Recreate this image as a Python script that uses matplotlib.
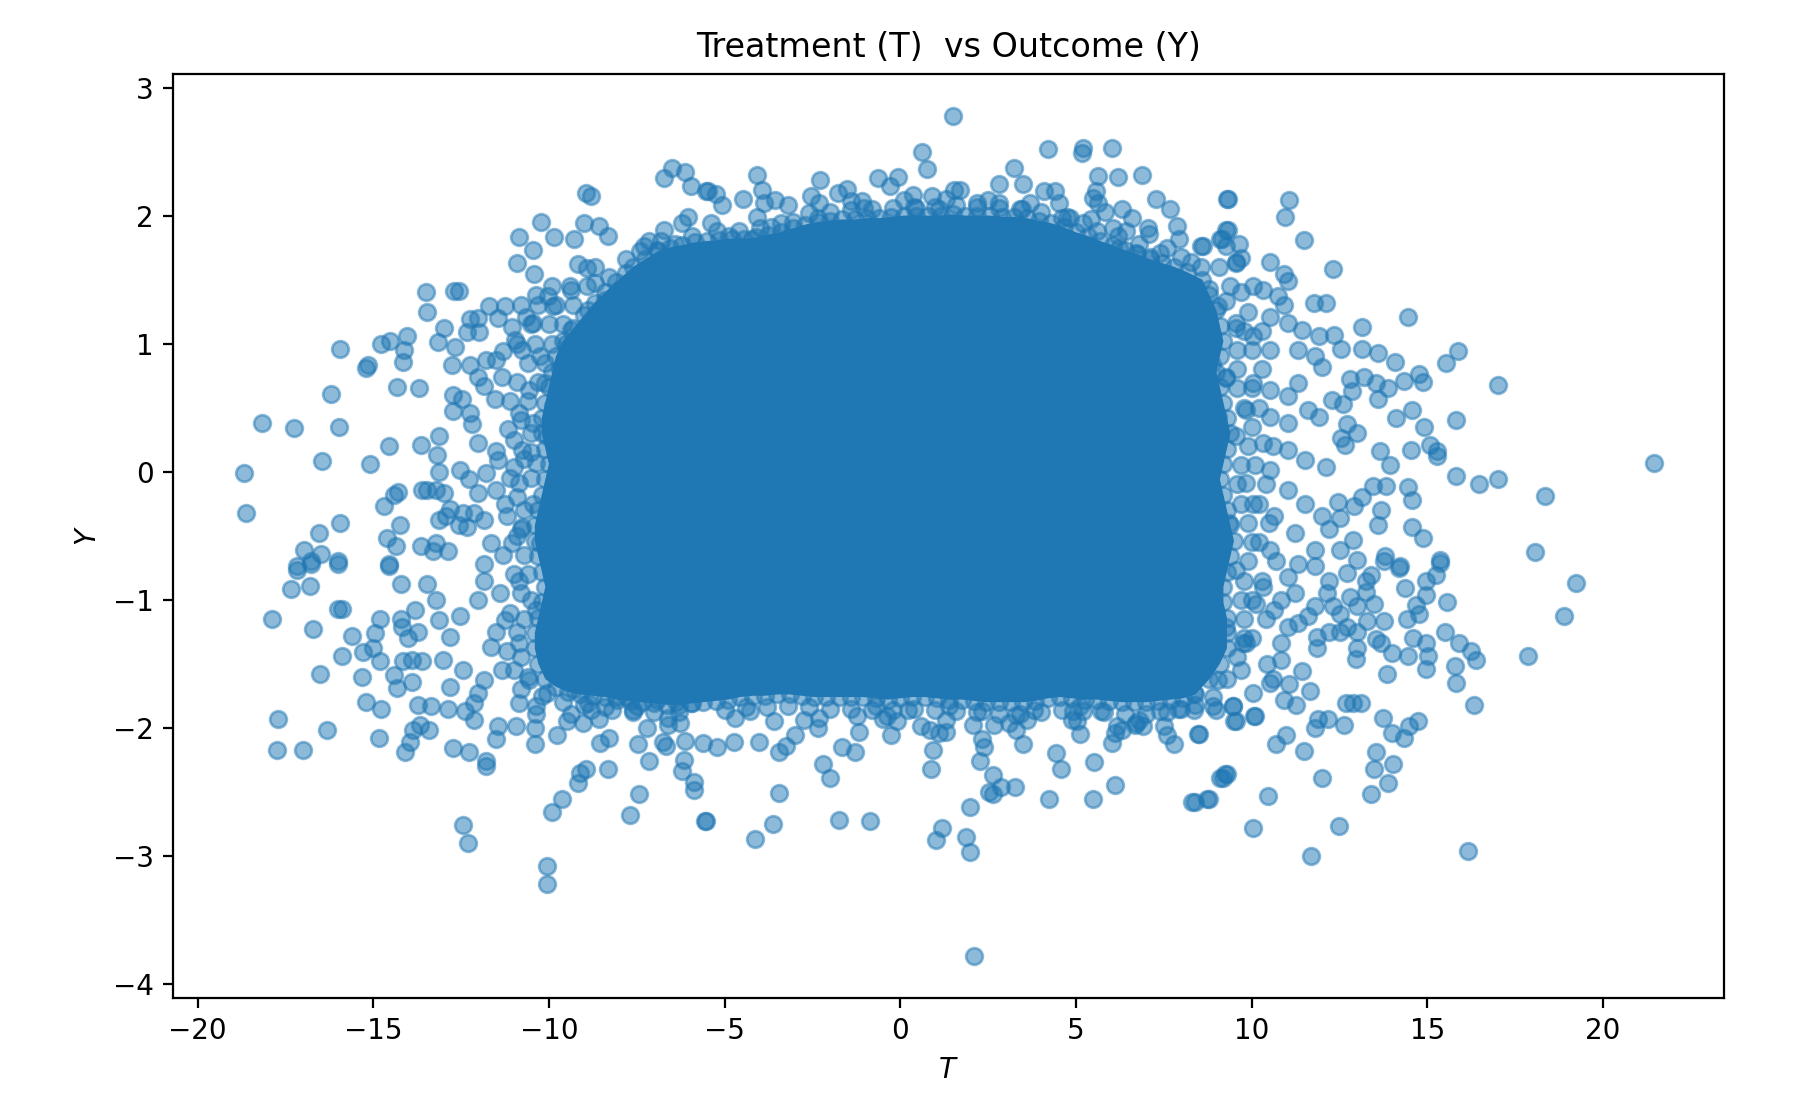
import matplotlib
matplotlib.use('Agg')
import matplotlib.pyplot as plt

# circles along the rim of the saturated middle of the cloud (T, Y), in order round the rim;
# the inside of this rim is solid colour in the picture
edge_pts = [
    # top, left to right
    (-7.6, 1.60), (-7.25, 1.66), (-6.9, 1.72), (-6.55, 1.75), (-6.2, 1.77), (-5.85, 1.79), (-5.5, 1.80),
    (-5.15, 1.81), (-4.8, 1.82), (-4.45, 1.82), (-4.1, 1.83), (-3.75, 1.85), (-3.4, 1.87), (-3.05, 1.90),
    (-2.7, 1.93), (-2.35, 1.95), (-2.0, 1.96), (-1.65, 1.97), (-1.3, 1.97), (-0.95, 1.98), (-0.6, 1.98),
    (-0.25, 1.99), (0.1, 2.00), (0.45, 2.00), (0.8, 2.00), (1.15, 2.00), (1.5, 2.01), (1.85, 2.00),
    (2.2, 2.00), (2.55, 2.00), (2.9, 1.99), (3.25, 1.99), (3.6, 1.98), (3.95, 1.96), (4.3, 1.94),
    (4.65, 1.91), (5.0, 1.87), (5.35, 1.84), (5.7, 1.80), (6.05, 1.77), (6.4, 1.73), (6.75, 1.70),
    (7.1, 1.66), (7.45, 1.63), (7.8, 1.60), (8.15, 1.56),
    # right, top to bottom
    (8.6, 1.50), (8.8, 1.38), (9.0, 1.26), (9.1, 1.14), (9.2, 1.02), (9.1, 0.90), (9.0, 0.78), (9.1, 0.66),
    (9.2, 0.54), (9.3, 0.42), (9.4, 0.30), (9.3, 0.18), (9.2, 0.06), (9.1, -0.06), (9.2, -0.18), (9.3, -0.30),
    (9.4, -0.42), (9.5, -0.54), (9.4, -0.66), (9.3, -0.78), (9.2, -0.90), (9.2, -1.02), (9.3, -1.14),
    (9.3, -1.26), (9.3, -1.38), (9.1, -1.50), (8.8, -1.62),
    # bottom, right to left
    (8.4, -1.74), (8.05, -1.77), (7.7, -1.78), (7.35, -1.79), (7.0, -1.80), (6.65, -1.80), (6.3, -1.80),
    (5.95, -1.79), (5.6, -1.78), (5.25, -1.78), (4.9, -1.77), (4.55, -1.76), (4.2, -1.77), (3.85, -1.79),
    (3.5, -1.80), (3.15, -1.80), (2.8, -1.80), (2.45, -1.80), (2.1, -1.79), (1.75, -1.78), (1.4, -1.78),
    (1.05, -1.77), (0.7, -1.76), (0.35, -1.76), (0.0, -1.77), (-0.35, -1.78), (-0.7, -1.77), (-1.05, -1.76),
    (-1.4, -1.76), (-1.75, -1.76), (-2.1, -1.76), (-2.45, -1.76), (-2.8, -1.75), (-3.15, -1.74), (-3.5, -1.74),
    (-3.85, -1.75), (-4.2, -1.75), (-4.55, -1.76), (-4.9, -1.78), (-5.25, -1.79), (-5.6, -1.80), (-5.95, -1.81),
    (-6.3, -1.82), (-6.65, -1.82), (-7.0, -1.81), (-7.35, -1.80), (-7.7, -1.79), (-8.05, -1.78), (-8.4, -1.76),
    (-8.75, -1.75), (-9.1, -1.74), (-9.45, -1.72), (-9.8, -1.68), (-10.1, -1.62),
    # left, bottom to top
    (-10.3, -1.50), (-10.4, -1.38), (-10.4, -1.26), (-10.3, -1.14), (-10.2, -1.02), (-10.1, -0.90),
    (-10.2, -0.78), (-10.3, -0.66), (-10.4, -0.54), (-10.4, -0.42), (-10.3, -0.30), (-10.2, -0.18),
    (-10.1, -0.06), (-10.0, 0.06), (-10.1, 0.18), (-10.2, 0.30), (-10.2, 0.42), (-10.1, 0.54), (-10.0, 0.66),
    (-9.9, 0.78), (-9.8, 0.90), (-9.6, 1.02), (-9.3, 1.12), (-9.0, 1.22), (-8.7, 1.32), (-8.4, 1.40),
    (-8.1, 1.48), (-7.8, 1.55)]

# visible single points, left side
left_pts = [(-18.68, -0.01), (-18.61, -0.32), (-18.17, 0.38), (-17.24, 0.34), (-15.97, 0.35), (-16.45, 0.08),
            (-15.94, 0.96), (-16.20, 0.61), (-15.19, 0.81), (-15.16, 0.83), (-14.79, 1.00), (-14.52, 1.02),
            (-14.03, 1.06), (-14.12, 0.95), (-14.15, 0.86), (-14.32, 0.66), (-13.69, 0.65), (-13.51, 1.40),
            (-13.46, 1.25), (-12.70, 1.41), (-12.55, 1.41), (-12.97, 1.12), (-13.15, 1.01), (-12.67, 0.97),
            (-12.77, 0.83), (-15.09, 0.06), (-14.55, 0.20), (-13.64, 0.21), (-13.14, 0.28), (-13.17, 0.13),
            (-13.12, 0.00), (-14.69, -0.27), (-14.30, -0.16), (-14.40, -0.18), (-14.23, -0.42), (-14.60, -0.52),
            (-14.35, -0.58), (-15.94, -0.40), (-16.55, -0.48), (-16.98, -0.61), (-16.49, -0.64), (-16.76, -0.70),
            (-15.99, -0.70), (-17.16, -0.74), (-14.55, -0.72), (-13.46, -0.14), (-13.61, -0.14), (-13.22, -0.14),
            (-12.97, -0.17), (-12.82, -0.29), (-12.92, -0.35), (-12.57, -0.42), (-13.12, -0.38), (-13.64, -0.58),
            (-13.22, -0.56), (-13.31, -0.62), (-12.87, -0.62), (-12.45, -0.32),
            (-12.03, 1.20), (-12.23, 1.19), (-11.69, 1.29), (-11.44, 1.20), (-12.33, 1.09), (-11.98, 1.09),
            (-12.72, 0.60), (-12.48, 0.57), (-12.72, 0.47), (-12.23, 0.46), (-12.18, 0.37), (-12.03, 0.22),
            (-11.54, 0.57), (-11.84, 0.67), (-12.03, 0.74), (-12.25, 0.83), (-11.79, 0.87), (-11.49, 0.87),
            (-11.30, 0.94), (-10.95, 1.03), (-10.80, 1.30), (-10.65, 1.21), (-10.46, 1.16), (-10.36, 1.38),
            (-10.01, 1.37), (-11.49, 0.16), (-11.44, 0.09), (-11.79, -0.01), (-12.53, 0.01), (-12.28, -0.06),
            (-12.03, -0.17), (-11.49, -0.14), (-12.13, -0.32), (-11.84, -0.38), (-12.33, -0.43),
            (-10.75, 0.95), (-10.26, 0.90), (-9.67, 0.80), (-10.11, 0.69), (-10.56, 0.64), (-10.85, 0.46),
            (-10.46, 0.38), (-9.87, 0.51), (-10.06, 0.28), (-10.75, 0.17), (-10.36, 0.07), (-9.67, 0.14),
            (-10.85, -0.09), (-10.46, -0.25), (-9.87, -0.19), (-10.75, -0.43), (-10.26, -0.56), (-9.57, -0.40),
            (-9.37, 1.11), (-9.87, 1.29), (-9.37, 1.42), (-8.68, 1.47), (-8.29, 1.52), (-8.39, 1.34),
            (-7.90, 1.42), (-8.88, 1.26), (-11.24, 1.29), (-11.05, 1.13), (-11.34, 0.74), (-11.15, 0.33),
            (-11.00, 0.04), (-11.24, -0.25), (-11.05, -0.56), (-11.64, -0.56), (-11.84, -0.72),
            (-17.16, -0.77), (-16.76, -0.72), (-15.99, -0.72), (-14.55, -0.74), (-17.35, -0.92), (-16.81, -0.89),
            (-15.99, -1.07), (-15.90, -1.07), (-17.87, -1.15), (-16.71, -1.23), (-15.61, -1.28), (-15.88, -1.44),
            (-16.52, -1.58), (-15.33, -1.60), (-15.30, -1.41), (-15.01, -1.38), (-14.94, -1.26), (-14.81, -1.15),
            (-14.81, -1.48), (-14.22, -0.88), (-13.48, -0.88), (-14.20, -1.15), (-14.18, -1.21), (-14.42, -1.59),
            (-14.32, -1.69), (-13.90, -1.64), (-14.15, -1.48), (-13.90, -1.47), (-13.61, -1.48), (-14.00, -1.30),
            (-13.71, -1.25), (-15.20, -1.80), (-14.79, -1.85), (-17.70, -1.93), (-16.32, -2.02), (-17.75, -2.17),
            (-17.01, -2.17), (-14.84, -2.08), (-13.71, -1.82), (-13.36, -1.83), (-12.87, -1.85), (-13.66, -1.98),
            (-13.86, -2.02), (-13.41, -2.02), (-13.95, -2.11), (-14.08, -2.19), (-12.72, -2.16), (-12.28, -2.19),
            (-11.79, -2.26), (-11.79, -2.30), (-12.13, -1.94), (-12.43, -2.76), (-12.31, -2.90), (-10.04, -3.08),
            (-10.06, -3.22), (-9.91, -2.66), (-9.62, -2.56), (-9.18, -2.43), (-9.10, -2.35), (-8.93, -2.32),
            (-8.31, -2.32), (-7.70, -2.68), (-7.42, -2.52), (-7.16, -2.26), (-7.45, -2.13), (-7.20, -2.00),
            (-5.53, -2.73), (-6.22, -2.34), (-6.14, -2.25), (-5.86, -2.49), (-5.86, -2.42), (-6.76, -2.11),
            (-6.66, -2.14), (-6.61, -1.98), (-6.37, -1.80), (-6.27, -1.96), (-6.12, -2.10), (-9.77, -2.06),
            (-10.38, -2.13), (-10.38, -2.00), (-9.47, -1.95), (-9.03, -1.96), (-8.54, -2.12), (-8.29, -2.08),
            (-8.58, -1.93), (-10.93, -1.99), (-11.49, -2.09), (-11.44, -1.99), (-12.38, -1.87), (-12.13, -1.81),
            (-10.36, -1.89), (-10.85, -1.81), (-7.50, -1.83), (-7.80, -1.76),
            (-10.85, -0.85), (-10.36, -1.08), (-11.24, -1.16), (-10.85, -1.34), (-11.34, -1.55), (-10.56, -1.63),
            (-11.84, -1.63), (-12.03, -1.73), (-11.64, -1.37), (-12.03, -1.00), (-11.84, -0.85), (-12.53, -1.13),
            (-12.82, -1.29), (-13.02, -1.47), (-12.82, -1.68), (-12.43, -1.55), (-13.22, -1.00), (-13.12, -1.16),
            (-13.81, -1.08), (-9.87, -1.52), (-9.28, -1.70), (-10.06, -1.73), (-8.88, -1.81), (-8.09, -1.76),
            (-6.91, -1.78), (-5.93, -1.81), (-10.36, -1.83), (-9.37, -1.89)]

# packed band outside the left rim
left_band = [(-9.9, 1.45), (-9.4, 1.45), (-8.9, 1.45), (-10.3, 1.30), (-9.8, 1.30), (-9.3, 1.30),
             (-10.5, 1.15), (-10.0, 1.15), (-9.6, 1.15), (-10.9, 1.00), (-10.4, 1.00), (-9.9, 1.00), (-9.5, 1.00),
             (-10.6, 0.85), (-10.1, 0.85), (-10.9, 0.70), (-10.3, 0.70), (-11.1, 0.55), (-10.6, 0.55),
             (-10.8, 0.40), (-10.5, 0.30), (-11.0, 0.25), (-10.5, 0.15), (-10.7, 0.10), (-11.1, -0.05),
             (-10.5, -0.05), (-10.9, -0.20), (-10.7, -0.30), (-11.2, -0.35), (-10.8, -0.45), (-10.9, -0.50),
             (-11.3, -0.65), (-10.7, -0.65), (-11.0, -0.80), (-10.6, -0.80), (-11.4, -0.95), (-10.8, -0.95),
             (-10.5, -1.00), (-11.1, -1.10), (-10.7, -1.15), (-11.5, -1.25), (-10.9, -1.25), (-11.2, -1.40),
             (-10.8, -1.45), (-11.0, -1.55), (-10.6, -1.60), (-10.8, -1.70), (-10.2, -1.75), (-9.6, -1.80),
             (-9.0, -1.82), (-8.4, -1.84), (-7.6, -1.86), (-7.0, -1.88), (-6.3, -1.88)]

# above the core
top_pts = [(-10.85, 1.83), (-10.46, 1.73), (-10.90, 1.63), (-10.43, 1.54), (-10.23, 1.95), (-9.85, 1.83),
           (-9.28, 1.82), (-9.00, 1.94), (-8.56, 1.92), (-8.31, 1.84), (-8.93, 2.18), (-8.80, 2.15),
           (-6.73, 2.29), (-6.49, 2.37), (-6.12, 2.34), (-5.95, 2.23), (-5.48, 2.19), (-6.73, 1.89),
           (-6.22, 1.94), (-6.04, 1.99), (-7.80, 1.66), (-7.30, 1.76), (-7.16, 1.80), (-9.18, 1.62),
           (-8.90, 1.59), (-8.70, 1.60), (-5.93, 1.84), (-5.53, 1.73), (-6.42, 1.78), (-6.91, 1.73),
           (1.49, 2.78), (0.62, 2.50), (0.75, 2.36), (4.20, 2.52), (5.21, 2.53), (5.18, 2.49), (6.02, 2.53),
           (3.23, 2.37), (3.51, 2.25), (2.82, 2.25), (5.63, 2.31), (6.20, 2.30), (6.87, 2.32), (5.58, 2.19),
           (5.50, 2.14), (5.63, 2.10), (7.28, 2.13), (7.68, 2.05), (7.89, 1.92), (7.94, 1.82), (9.34, 2.13),
           (9.32, 1.89), (8.63, 1.76), (9.17, 1.82), (6.30, 2.05), (6.61, 1.98), (7.06, 1.90), (7.09, 1.86),
           (4.10, 2.19), (4.40, 2.19), (4.52, 2.10), (4.82, 1.98), (-4.08, 2.32), (-3.93, 2.20), (-4.47, 2.13),
           (-5.52, 2.19), (-5.23, 2.17), (-5.06, 2.08), (-2.27, 2.28), (-2.55, 2.15), (-1.76, 2.18),
           (-1.52, 2.21), (-1.39, 2.11), (-0.63, 2.29), (-0.07, 2.30), (-0.30, 2.23), (0.36, 2.16), (0.90, 2.15),
           (1.54, 2.20), (1.71, 2.20), (-3.55, 2.12), (-3.19, 2.08), (-3.88, 2.10), (-5.38, 1.94), (-4.88, 1.84),
           (-4.22, 1.82), (-4.08, 1.99), (-3.68, 1.91), (-3.04, 1.95), (-2.35, 1.98), (-1.02, 2.06), (0.46, 2.06),
           (1.10, 2.05), (2.18, 2.10), (2.82, 2.10), (3.46, 2.05), (4.76, 1.99), (5.43, 1.97), (5.82, 2.03),
           (6.07, 1.90), (6.42, 1.88), (6.22, 1.75), (6.71, 1.71), (7.11, 1.68), (7.60, 1.75), (8.29, 1.64),
           (9.08, 1.60), (9.57, 1.64), (8.78, 1.43), (9.27, 1.33), (9.57, 1.12), (8.88, 0.84), (9.27, 0.73),
           (8.78, 0.57)]

# packed band outside the top rim
top_band = [(-7.4, 1.72), (-6.8, 1.80), (-5.2, 1.88), (-4.6, 1.88), (-4.0, 1.90), (-3.4, 1.94),
            (-2.6, 2.02), (-2.0, 2.03), (-1.4, 2.04), (-0.8, 2.05), (-0.2, 2.06), (0.4, 2.07), (1.0, 2.07),
            (1.6, 2.08), (2.2, 2.07), (2.8, 2.06), (3.4, 2.05), (4.0, 2.03), (-2.3, 2.10), (-1.1, 2.11),
            (0.1, 2.12), (1.3, 2.13), (2.5, 2.12), (3.7, 2.10), (4.6, 1.98), (5.2, 1.94), (5.6, 1.88),
            (6.2, 1.84), (6.8, 1.78), (7.4, 1.71), (8.0, 1.68)]

# below the core
bottom_pts = [(2.11, -3.78), (1.98, -2.97), (1.86, -2.85), (1.19, -2.78), (1.03, -2.88), (2.00, -2.62),
              (2.65, -2.37), (2.52, -2.50), (2.65, -2.52), (2.87, -2.46), (3.28, -2.46), (2.26, -2.26),
              (2.38, -2.15), (2.33, -2.09), (0.88, -2.32), (0.93, -2.17), (4.25, -2.56), (5.48, -2.56),
              (6.12, -2.45), (5.53, -2.27), (4.59, -2.32), (4.43, -2.20), (8.39, -2.58), (8.78, -2.56),
              (9.19, -2.39), (9.29, -2.36), (8.50, -2.05), (7.79, -2.13), (7.60, -2.06), (6.04, -2.12),
              (5.13, -2.05), (5.04, -1.95), (4.92, -1.87), (6.69, -1.98), (6.30, -2.02), (6.17, -1.99),
              (6.81, -1.94), (3.51, -2.13), (3.31, -2.02), (3.61, -1.94), (2.06, -1.98), (2.67, -1.98),
              (2.33, -1.87), (0.85, -2.02), (1.10, -2.04), (1.29, -2.03), (0.60, -1.99), (-0.26, -2.06),
              (-0.09, -1.95), (-0.38, -1.91), (-1.17, -2.03), (-1.30, -2.19), (-1.66, -2.15), (-2.01, -2.39),
              (-2.20, -2.28), (-2.35, -2.00), (-3.46, -2.51), (-3.61, -2.75), (-4.13, -2.87), (-5.55, -2.73),
              (-1.73, -2.72), (-0.85, -2.73), (-2.99, -2.06), (-3.26, -2.14), (-3.46, -2.19), (-4.03, -2.11),
              (-4.72, -2.11), (-5.21, -2.15), (-5.60, -2.12), (-3.58, -1.95), (-4.27, -1.87), (-2.75, -1.94),
              (-1.22, -1.91), (-0.68, -1.83), (0.21, -1.86), (1.39, -1.83), (3.31, -1.90), (3.80, -1.86),
              (5.73, -1.87), (7.40, -1.87), (7.99, -1.85), (8.98, -1.86), (6.12, -2.04), (6.91, -1.99),
              (7.50, -1.99), (5.13, -1.83), (9.57, -1.95), (9.47, -1.83)]

# packed band outside the bottom rim
bottom_band = [(-8.8, -1.86), (-8.2, -1.86), (-7.6, -1.88), (-5.0, -1.86), (-4.4, -1.84), (-3.8, -1.84),
               (-3.2, -1.83), (-2.6, -1.84), (-2.0, -1.85), (-1.4, -1.85), (-0.8, -1.86), (-0.2, -1.86),
               (0.4, -1.85), (1.0, -1.86), (1.6, -1.87), (2.2, -1.88), (2.8, -1.89), (3.4, -1.89), (4.0, -1.88),
               (4.6, -1.86), (5.2, -1.87), (5.8, -1.88), (6.4, -1.89), (7.0, -1.89), (7.6, -1.88),
               (-6.6, -1.92), (-4.7, -1.92), (-2.3, -1.92), (-0.5, -1.93), (1.3, -1.94), (3.1, -1.96),
               (4.9, -1.94), (6.7, -1.96)]

# right side
right_pts = [(9.29, 2.13), (11.08, 2.12), (10.96, 1.99), (11.48, 1.81), (9.26, 1.89), (9.11, 1.82), (8.57, 1.76),
             (9.26, 1.76), (9.65, 1.78), (9.70, 1.67), (10.54, 1.64), (10.93, 1.54), (11.03, 1.49), (12.33, 1.58),
             (11.77, 1.32), (12.13, 1.32), (14.46, 1.21), (13.15, 1.13), (13.15, 0.96), (13.59, 0.93), (14.07, 0.86),
             (12.36, 1.07), (12.56, 0.96), (15.89, 0.94), (15.54, 0.85), (17.02, 0.68), (12.81, 0.72), (13.20, 0.74),
             (12.85, 0.63), (13.54, 0.69), (13.89, 0.65), (13.59, 0.57), (14.33, 0.71), (14.76, 0.76), (14.89, 0.70),
             (12.29, 0.56), (12.61, 0.53), (14.56, 0.48), (14.11, 0.42), (15.83, 0.40), (14.92, 0.35), (12.71, 0.37),
             (13.00, 0.30), (12.56, 0.26), (12.66, 0.21), (15.07, 0.21), (15.27, 0.16), (15.27, 0.12), (14.55, 0.17),
             (13.94, 0.05), (13.67, 0.16), (21.45, 0.07), (15.83, -0.03), (16.47, -0.10), (17.02, -0.06),
             (18.35, -0.19), (18.08, -0.63), (14.46, -0.12), (14.56, -0.22), (13.84, -0.11), (13.45, -0.11),
             (13.15, -0.20), (12.92, -0.27), (12.46, -0.24), (13.69, -0.30), (13.59, -0.42), (14.56, -0.43),
             (14.87, -0.52), (12.51, -0.36), (12.90, -0.53), (13.79, -0.66), (14.23, -0.74), (15.37, -0.69),
             (8.57, 1.60), (9.55, 1.63), (10.05, 1.45), (10.34, 1.42), (10.74, 1.37), (10.93, 1.30), (10.54, 1.21),
             (11.03, 1.16), (11.43, 1.11), (11.92, 1.06), (11.33, 0.95), (11.82, 0.90), (12.02, 0.82), (10.54, 0.95),
             (10.05, 1.06), (9.55, 1.16), (9.06, 1.29), (9.26, 0.74), (10.05, 0.69), (10.54, 0.64), (11.03, 0.59),
             (11.33, 0.69), (11.62, 0.48), (11.92, 0.43), (11.03, 0.38), (10.54, 0.43), (9.85, 0.48), (9.06, 0.43),
             (9.55, 0.28), (10.34, 0.22), (11.03, 0.17), (11.53, 0.09), (12.12, 0.04), (10.54, 0.01), (9.85, -0.09),
             (11.03, -0.14), (11.53, -0.25), (12.02, -0.35), (12.21, -0.45), (12.51, -0.61), (11.82, -0.61),
             (11.23, -0.48), (10.64, -0.35), (10.05, -0.25), (9.36, -0.40), (10.54, -0.61), (9.06, -0.66),
             (11.33, -0.72), (13.00, -0.69),
             (19.24, -0.87), (18.89, -1.13), (17.86, -1.44), (16.15, -2.96), (12.49, -2.77), (11.69, -3.00),
             (10.05, -2.78), (10.47, -2.53), (12.00, -2.39), (13.40, -2.52), (13.89, -2.43), (13.49, -2.32),
             (13.54, -2.19), (14.04, -2.28), (8.32, -2.58), (8.72, -2.56), (9.11, -2.39), (9.24, -2.36),
             (10.69, -2.13), (10.98, -2.06), (11.50, -2.18), (8.47, -2.05), (10.10, -1.91), (11.80, -2.00),
             (11.90, -1.93), (12.17, -1.93), (12.63, -1.98), (13.74, -1.92), (13.99, -2.04), (14.33, -2.08),
             (14.48, -1.99), (14.73, -1.95), (12.69, -1.81), (12.90, -1.81), (13.13, -1.81), (16.33, -1.82),
             (15.81, -1.65), (15.78, -1.52), (14.97, -1.54), (15.02, -1.44), (16.40, -1.47), (16.25, -1.40),
             (15.91, -1.34), (15.50, -1.25), (14.97, -1.34), (14.61, -1.30), (14.46, -1.44), (13.99, -1.42),
             (13.87, -1.58), (13.69, -1.34), (15.56, -1.02), (14.97, -0.96), (15.24, -0.81), (14.97, -0.85),
             (14.38, -0.91), (14.43, -1.15), (14.77, -1.11), (14.68, -1.04), (14.20, -0.75), (13.77, -0.70),
             (15.37, -0.71), (13.48, -1.03), (13.30, -1.17), (13.77, -1.17), (13.54, -1.31), (13.00, -1.38),
             (12.98, -1.46), (11.67, -1.71), (11.43, -1.56), (11.28, -1.82), (10.93, -1.78), (11.08, -1.66),
             (10.62, -1.62), (10.07, -1.91), (9.51, -1.95), (8.91, -1.83), (8.37, -1.86), (13.00, -1.25),
             (12.71, -1.21), (12.51, -1.25), (12.21, -1.25), (11.87, -1.38), (11.87, -1.29), (12.31, -1.05),
             (12.81, -0.98), (13.00, -1.05), (13.25, -0.94), (13.25, -0.85), (13.40, -0.81), (12.71, -0.79),
             (12.16, -0.95), (12.51, -1.11), (11.03, -1.21), (10.83, -1.34), (11.33, -1.18), (9.85, -1.34),
             (10.44, -1.50), (10.83, -1.47), (11.03, -0.82), (11.23, -0.95), (11.82, -1.05), (10.14, -1.03),
             (10.83, -1.00), (9.55, -0.77), (10.34, -0.90), (10.64, -1.08), (9.26, -1.21), (9.75, -1.34),
             (8.67, -1.47), (9.06, -1.63), (10.05, -1.73), (9.46, -1.83), (8.37, -1.73), (10.54, -1.65),
             (11.62, -1.13), (12.21, -0.85), (11.82, -0.74)]

# packed band outside the right rim
right_band = [(9.4, 1.45), (9.7, 1.40), (9.9, 1.25), (9.8, 1.10), (10.3, 1.10), (9.6, 0.95), (10.0, 0.95),
              (9.6, 0.80), (10.3, 0.80), (9.6, 0.65), (10.0, 0.65), (9.8, 0.50), (10.2, 0.50), (10.0, 0.35),
              (9.9, 0.20), (10.6, 0.20), (9.7, 0.05), (10.1, 0.05), (9.6, -0.10), (10.4, -0.10), (9.7, -0.25),
              (10.2, -0.25), (9.9, -0.40), (10.5, -0.40), (10.0, -0.55), (10.2, -0.55), (9.9, -0.70), (10.7, -0.70),
              (9.8, -0.85), (10.3, -0.85), (9.7, -1.00), (10.0, -1.00), (9.8, -1.15), (10.4, -1.15), (9.8, -1.30),
              (10.0, -1.30), (9.6, -1.45), (9.7, -1.55), (9.3, -1.62), (7.9, -1.85), (8.4, -1.82), (8.9, -1.76)]

pts = (edge_pts + left_pts + left_band + top_pts + top_band + bottom_pts + bottom_band
       + right_pts + right_band)
T = [p[0] for p in pts]
Y = [p[1] for p in pts]

fig = plt.figure(figsize=(9.04, 5.55), dpi=200)
ax = fig.add_axes([0.0959, 0.1012, 0.8578, 0.8324])

ax.fill([p[0] for p in edge_pts], [p[1] for p in edge_pts], color='C0', linewidth=0)
ax.scatter(T, Y, alpha=0.5, color='C0')

ax.set_title('Treatment (T)  vs Outcome (Y)')
ax.set_xlabel('$T$')
ax.set_ylabel('$Y$')

fig.savefig('out.png', dpi=200)
